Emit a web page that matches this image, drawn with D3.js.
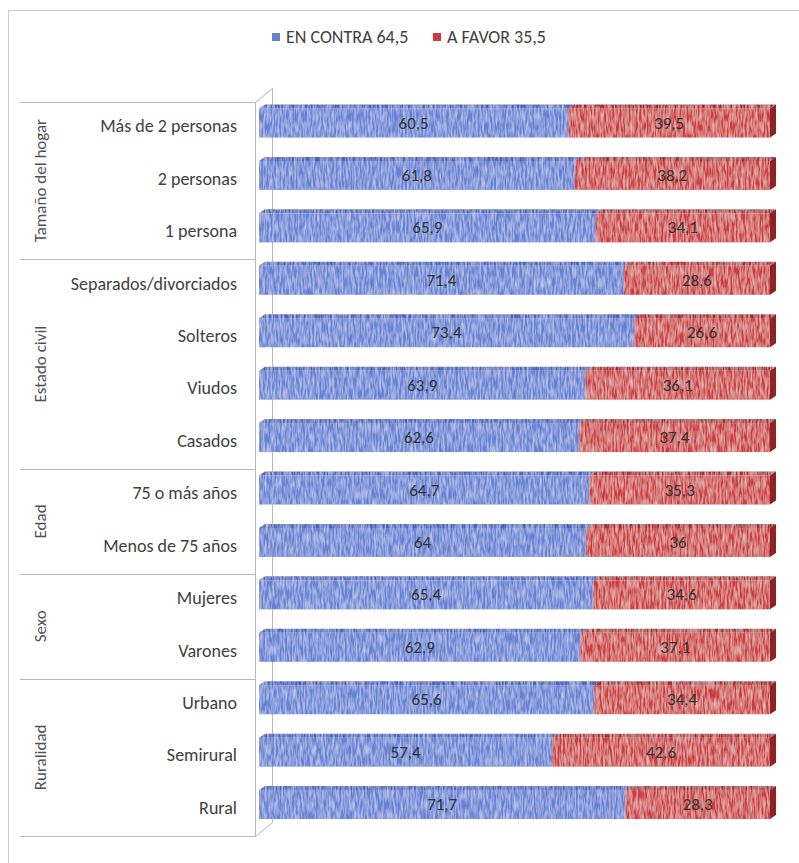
<!DOCTYPE html>
<html><head><meta charset="utf-8">
<script src="https://cdn.jsdelivr.net/npm/d3@7"></script>
<style>body{margin:0;background:#fff}svg{display:block}text{font-family:Carlito,Lato,"Open Sans",sans-serif}</style>
</head><body><svg id="c" width="799" height="863"></svg>
<script>
const groups = ["Tamaño del hogar","Estado civil","Edad","Sexo","Ruralidad"];
const categories = ["Más de 2 personas","2 personas","1 persona","Separados/divorciados","Solteros","Viudos","Casados","75 o más años","Menos de 75 años","Mujeres","Varones","Urbano","Semirural","Rural"];
const categoryGroup = [0,0,0,1,1,1,1,2,2,3,3,4,4,4];
const enContra = [60.5,61.8,65.9,71.4,73.4,63.9,62.6,64.7,64,65.4,62.9,65.6,57.4,71.7];
const aFavor = [39.5,38.2,34.1,28.6,26.6,36.1,37.4,35.3,36,34.6,37.1,34.4,42.6,28.3];
const seriesNames = ["EN CONTRA 64,5","A FAVOR 35,5"];
const colors = {front:["#6381d5","#cd3c3d"], top:["#4463bb","#a82c2d"], side:["#3b56a8","#8e2324"]};

const svg = d3.select("#c");
const fmt = v => String(v).replace(".", ",");

const defs = svg.append("defs");
const f = defs.append("filter").attr("id","tex").attr("x",0).attr("y",0).attr("width",1).attr("height",1);
f.append("feTurbulence").attr("type","fractalNoise").attr("baseFrequency","0.55 0.09").attr("numOctaves",2).attr("seed",3).attr("result","n");
f.append("feColorMatrix").attr("in","n").attr("type","matrix")
  .attr("values","0 0 0 0 1  0 0 0 0 1  0 0 0 0 1  0.9 0 0 0 -0.3").attr("result","w");
f.append("feComposite").attr("in","w").attr("in2","SourceGraphic").attr("operator","in").attr("result","wc");
const m = f.append("feMerge"); m.append("feMergeNode").attr("in","SourceGraphic"); m.append("feMergeNode").attr("in","wc");

svg.append("rect").attr("x",8.5).attr("y",10.5).attr("width",820).attr("height",900).attr("fill","none").attr("stroke","#c8c8c8");

const y = d3.scaleBand().domain(categories).range([102,836]).padding(0);
const x = d3.scaleLinear().domain([0,100]).range([259,770]);
const dx = 6, dy = 4;
const bw = y.bandwidth();

const wall = svg.append("g").attr("stroke","#b8b8b8").attr("fill","none").attr("stroke-width",1);
wall.append("path").attr("d",`M255.5,102.5 L272.5,88.5 L272.5,822.5 L255.5,836.5 Z`);
const bounds = [0];
groups.forEach((g,gi)=>{ bounds.push(categoryGroup.lastIndexOf(gi)+1); });
bounds.forEach(b=>{
  const yy = b<categories.length ? y(categories[b]) : y.range()[1];
  wall.append("line").attr("x1",20).attr("x2",255.5).attr("y1",Math.round(yy)+0.5).attr("y2",Math.round(yy)+0.5);
});

groups.forEach((g,gi)=>{
  const first = categoryGroup.indexOf(gi), last = categoryGroup.lastIndexOf(gi);
  const cy = (y(categories[first]) + y(categories[last]) + bw)/2;
  svg.append("text").attr("transform",`translate(46,${cy}) rotate(-90)`).attr("text-anchor","middle")
    .attr("font-size",17).attr("fill","#505050").text(g);
});

svg.append("g").selectAll("text").data(categories).join("text")
  .attr("x",237).attr("y",d=>y(d)+bw/2+4).attr("text-anchor","end")
  .attr("font-size",18).attr("fill","#404040").text(d=>d);

const bars = svg.append("g");
categories.forEach((c,i)=>{
  const y0 = y(c)+6.5, y1 = y(c)+35.5;
  const segs = [[0,enContra[i],0,enContra[i]],[enContra[i],enContra[i]+aFavor[i],1,aFavor[i]]];
  segs.forEach(([a,b,s])=>{
    const xa = x(a), xb = x(b);
    bars.append("path").attr("d",`M${xa},${y0} L${xa+dx},${y0-dy} L${xb+dx},${y0-dy} L${xb},${y0} Z`).attr("fill",colors.top[s]).attr("filter","url(#tex)");
    bars.append("rect").attr("x",xa).attr("y",y0).attr("width",xb-xa).attr("height",y1-y0).attr("fill",colors.front[s]).attr("filter","url(#tex)");
    if (s===1) bars.append("path").attr("d",`M${xb},${y0} L${xb+dx},${y0-dy} L${xb+dx},${y1-dy} L${xb},${y1} Z`).attr("fill",colors.side[s]);
  });
  segs.forEach(([a,b,s,v])=>{
    bars.append("text").attr("x",(x(a)+x(b))/2).attr("y",(y0+y1)/2+5.5).attr("text-anchor","middle")
      .attr("font-size",17).attr("fill","#333").text(fmt(v));
  });
});

const leg = svg.append("g");
const legX = [272, 433];
seriesNames.forEach((n,i)=>{
  leg.append("rect").attr("x",legX[i]).attr("y",33).attr("width",8).attr("height",8).attr("fill",colors.front[i]);
  leg.append("text").attr("x",legX[i]+14).attr("y",43).attr("font-size",18).attr("fill","#404040").text(n);
});
</script></body></html>
